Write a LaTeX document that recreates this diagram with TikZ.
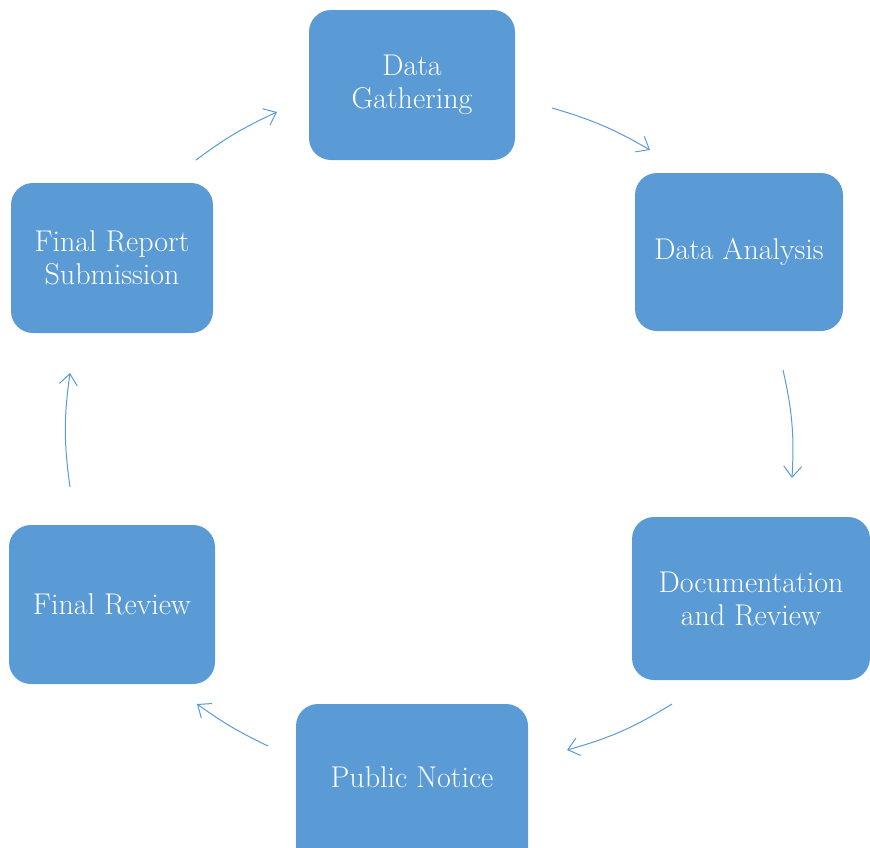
\documentclass[tikz,border=0pt]{standalone}
\usetikzlibrary{arrows.meta}
\definecolor{boxblue}{HTML}{5B9BD5}
\definecolor{arrblue}{HTML}{5B9BD5}
\tikzset{
  stepbox/.style={fill=boxblue, draw=none, rounded corners=22pt, text=white,
    align=center, font=\fontsize{30}{33}\selectfont, inner sep=0pt},
  flow/.style={draw=arrblue, line width=1pt, -{Straight Barb[length=11pt,width=18pt,line width=1pt]}}
}
\begin{document}
\begin{tikzpicture}[x=1pt,y=-1pt]
\useasboundingbox (0,0) rectangle (870,847);
\clip (0,0) rectangle (870,847);
% boxes
\node[stepbox, minimum width=206pt, minimum height=150pt] (gather) at (412,85) {Data\\Gathering};
\node[stepbox, minimum width=208pt, minimum height=158pt] (analysis) at (739,252) {Data Analysis};
\node[stepbox, minimum width=238pt, minimum height=163pt] (doc) at (751,598.5) {Documentation\\and Review};
\node[stepbox, minimum width=232pt, minimum height=170pt] (public) at (412,789) {};
\node[text=white, font=\fontsize{30}{33}\selectfont] (publictext) at (412,777) {Public Notice};
\node[stepbox, minimum width=206pt, minimum height=159pt] (freview) at (112,604.5) {Final Review};
\node[stepbox, minimum width=202pt, minimum height=150pt] (freport) at (112,258) {Final Report\\Submission};
% arrow endpoints
\coordinate (a1) at (552,108); \coordinate (b1) at (650,150);
\coordinate (a2) at (783,370); \coordinate (b2) at (792,478);
\coordinate (a3) at (672,704); \coordinate (b3) at (567,750);
\coordinate (a4) at (268,746); \coordinate (b4) at (197,704);
\coordinate (a5) at (70,487);  \coordinate (b5) at (70,373);
\coordinate (a6) at (196,160); \coordinate (b6) at (277,112);
\draw[flow] (a1) to[bend left=7] (b1);
\draw[flow] (a2) to[bend left=8] (b2);
\draw[flow] (a3) to[bend left=8] (b3);
\draw[flow] (a4) to[bend left=5] (b4);
\draw[flow] (a5) to[bend left=8] (b5);
\draw[flow] (a6) to[bend left=6] (b6);
\end{tikzpicture}
\end{document}
